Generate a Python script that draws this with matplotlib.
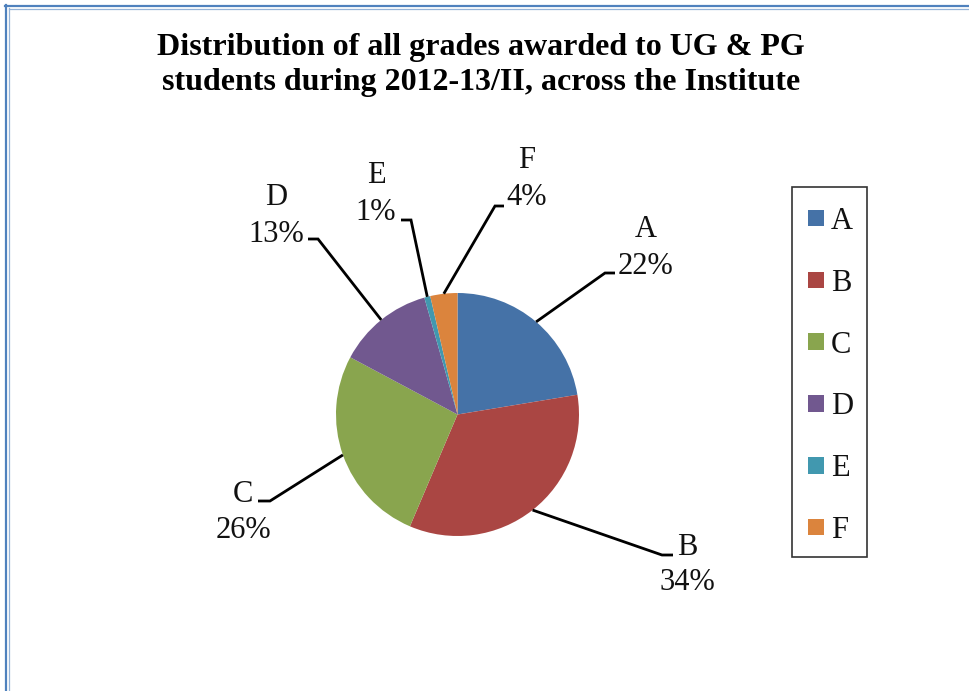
import matplotlib
matplotlib.use("Agg")
import matplotlib.pyplot as plt
import numpy as np
from matplotlib.lines import Line2D

# ---- data ----
grades = ["A", "B", "C", "D", "E", "F"]
shares = [22.4, 34.0, 26.4, 12.8, 0.8, 3.6]
pct_labels = ["22%", "34%", "26%", "13%", "1%", "4%"]
colors = ["#4572A7", "#AA4643", "#89A54E", "#71588F", "#4198AF", "#DB843D"]
title_lines = ["Distribution of all grades awarded to UG & PG",
               "students during 2012-13/II, across the Institute"]

W, H = 969, 691
fig = plt.figure(figsize=(W / 100, H / 100), dpi=100)
fig.patch.set_facecolor("white")

# axes spanning the whole figure in pixel-like units (y up)
ax = fig.add_axes([0, 0, 1, 1])

cx, cy, R = 457.5, H - 414.5, 121.5
wedges, _ = ax.pie(shares, colors=colors, startangle=90, counterclock=False,
                   center=(cx, cy), radius=R, frame=True,
                   wedgeprops=dict(edgecolor="none"))
ax.set_xlim(0, W)
ax.set_ylim(0, H)
ax.set_aspect("auto")
ax.axis("off")

# label layout (image pixel coords): elbow, elbow end, label x centre, baselines
layout = {
    "A": dict(elbow=(605, 273), end=(615, 273), x=646, b1=237, b2=274),
    "B": dict(elbow=(662, 555), end=(673, 555), x=687, b1=555, b2=590),
    "C": dict(elbow=(270, 501), end=(258, 501), x=243, b1=502, b2=538),
    "D": dict(elbow=(318, 239), end=(308, 239), x=276, b1=205, b2=242),
    "E": dict(elbow=(411, 220), end=(401, 220), x=376, b1=183, b2=220),
    "F": dict(elbow=(495, 206), end=(504, 206), x=527, b1=168, b2=205),
}

serif = ["Liberation Serif", "DejaVu Serif"]
fs = 22
cum = np.cumsum([0] + shares)
tot = sum(shares)
for i, g in enumerate(grades):
    mid = (cum[i] + cum[i + 1]) / 2 / tot
    ang = np.deg2rad(90 - 360 * mid)
    sx, sy = cx + R * np.cos(ang), cy + R * np.sin(ang)
    L = layout[g]
    ex, ey = L["elbow"][0], H - L["elbow"][1]
    fx, fy = L["end"][0], H - L["end"][1]
    ax.plot([sx, ex, fx], [sy, ey, fy], color="black", lw=2, solid_capstyle="butt",
            solid_joinstyle="miter", zorder=1)
    ax.text(L["x"], H - L["b1"], g, ha="center", va="baseline",
            fontsize=fs, family=serif, color="#111111")
    ax.text(L["x"], H - L["b2"], pct_labels[i], ha="center", va="baseline",
            fontsize=fs, family=serif, color="#111111")

# title
for line, base in zip(title_lines, [55, 90]):
    fig.text(481 / W, 1 - base / H, line, ha="center", va="baseline", fontsize=23,
             fontweight="bold", family=serif)

# legend (manual layout box)
ax.add_patch(plt.Rectangle((792.3, H - 556.7), 75, 370, fill=False, edgecolor="#333333",
                           lw=1.2))
for i, g in enumerate(grades):
    yc = H - (218 + 61.8 * i)
    ax.add_patch(plt.Rectangle((808, yc - 8.3), 16.5, 16.5, facecolor=colors[i],
                               edgecolor="none"))
    ax.text(831, yc - 11, g, ha="left", va="baseline", fontsize=fs, family=serif,
            color="#111111")

# page border lines (double blue)
fig.add_artist(Line2D([6 / W, 6 / W], [0, 1 - 5 / H], transform=fig.transFigure,
                      color="#4F81BD", lw=1.6))
fig.add_artist(Line2D([5 / W, 1], [1 - 6 / H, 1 - 6 / H], transform=fig.transFigure,
                      color="#4F81BD", lw=1.6))
fig.add_artist(Line2D([8.8 / W, 8.8 / W], [0, 1 - 8 / H], transform=fig.transFigure,
                      color="#95B3D7", lw=0.9))
fig.add_artist(Line2D([8.5 / W, 1], [1 - 8.8 / H, 1 - 8.8 / H], transform=fig.transFigure,
                      color="#95B3D7", lw=0.9))

fig.savefig("out.png", dpi=100, facecolor="white")
